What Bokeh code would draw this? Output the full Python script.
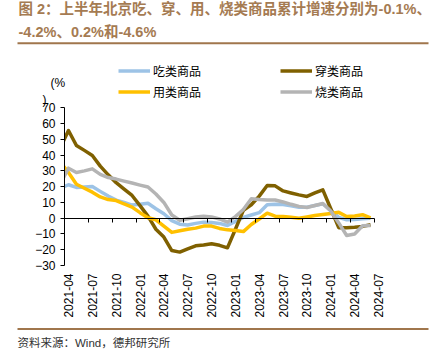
from math import pi
import pandas as pd
from bokeh.plotting import figure
from bokeh.models import (Range1d, Label, Legend, LegendItem, BoxAnnotation, FixedTicker,
                          LinearAxis)
from bokeh.embed import file_html
from bokeh.resources import INLINE

# ---------------- data ----------------
MONTHS = list(pd.period_range("2021-03", "2024-06", freq="M").strftime("%Y-%m"))

FOOD = [19, 21.2, 19.5, 19.8, 20.1, 17, 14, 11.5, 10, 8.3,
        8.8, 9.5, 6, 2.8, -1.5, -3.8, -4.3, -3.3, -2.5, -2.8, -3.3, -4.6,
        -2, 0.5, 2, 3.5, 8.5, 8.8, 8.7, 7.8, 7, 7, 8, 9.1,
        5, 0.5, -1, -0.8, -0.4, -0.1]
CLOTHING = [45, 55.6, 46.1, 43, 39.8, 33, 27.5, 22.5, 18.4, 14.4,
            8, 1.3, -7, -12, -20.5, -21.5, -19.5, -17.5, -17, -16.2, -17.2, -18.8,
            -7, 5, 8.5, 14, 20.7, 20.5, 17.3, 16, 14.8, 13.8, 16, 18,
            6, -6, -6, -5.8, -5.2, -4.2]
HOUSEHOLD = [35.5, 29, 21.5, 19, 16.5, 13.5, 11.8, 11.2, 9, 7,
             3.5, 0.3, -1, -5, -9, -8, -7, -6.3, -5, -5, -6.5, -7.4,
             -7.8, -8.5, -4, -0.5, 3.2, 1.3, 1.1, 0.6, 0, 0.8, 1.7, 2.3,
             3, 3.7, 1.1, 1.4, 2.2, 0.2]
FUEL = [22, 31.7, 29, 30, 31.3, 27.8, 25.8, 24.8, 23.5, 22.3,
        21, 19.8, 15.3, 10, 2, -1.3, -0.3, 0.8, 1.2, 0.8, -0.5, -2.5,
        1, 5.5, 12.3, 11.8, 11.5, 11.5, 10.3, 8.8, 7.5, 6.8, 8, 9.3,
        4.5, -3, -11, -10, -4.8, -4.6]

SERIES_NAMES = ["吃类商品", "穿类商品", "用类商品", "烧类商品"]
SERIES_COLORS = ["#9DC3E6", "#7F6000", "#FFC000", "#B4B4B4"]

TICK_LABELS = ["2021-04", "2021-07", "2021-10", "2022-01", "2022-04", "2022-07",
               "2022-10", "2023-01", "2023-04", "2023-07", "2023-10", "2024-01",
               "2024-04", "2024-07"]
Y_TICKS = [-30, -20, -10, 0, 10, 20, 30, 40, 50, 60, 70]

TITLE_1 = "图 2：上半年北京吃、穿、用、烧类商品累计增速分别为-0.1%、"
TITLE_2 = "-4.2%、0.2%和-4.6%"
SOURCE = "资料来源：Wind，德邦研究所"


def month_pos(s):
    y, m = map(int, s.split("-"))
    return (y - 2021) * 12 + (m - 4)


x_vals = [month_pos(s) + 0.5 for s in MONTHS]      # each month centred in its slot
tick_x = [month_pos(s) for s in TICK_LABELS]        # slot boundaries (tick marks)
label_x = [t + 0.5 for t in tick_x]                 # labels centred on the month slot
X_MIN, X_MAX = tick_x[0], tick_x[-1]
Y_MIN, Y_MAX = Y_TICKS[0], Y_TICKS[-1]

# ---------------- layout (pixels) ----------------
W, H = 442, 360
PLOT_L, PLOT_R, PLOT_T, PLOT_B = 64, 374, 107.3, 265
KX = (PLOT_R - PLOT_L) / (X_MAX - X_MIN)
KY = (PLOT_B - PLOT_T) / (Y_MAX - Y_MIN)


def dx(px):
    return X_MIN + (px - PLOT_L) / KX


def dy(py):
    return Y_MIN + (PLOT_B - py) / KY


p = figure(width=W, height=H, x_range=Range1d(dx(0), dx(W)), y_range=Range1d(dy(H), dy(0)),
           output_backend="svg", toolbar_location=None,
           x_axis_type=None, y_axis_type=None,
           min_border=0, min_border_left=0, min_border_right=0,
           min_border_top=0, min_border_bottom=0)
p.grid.visible = False
p.outline_line_color = None
p.background_fill_color = "white"
p.border_fill_color = "white"

NUM_FONT = "Liberation Sans"
CJK_FONT = "Noto Sans CJK SC"
MIX_FONT = "Liberation Sans, Noto Sans CJK SC"

# series
renderers = []
for vals, col in zip([FOOD, CLOTHING, HOUSEHOLD, FUEL], SERIES_COLORS):
    r = p.line(x_vals, vals, line_color=col, line_width=3.5, line_join="round")
    renderers.append(r)

# mask the part of the lines left of the value axis (plot area clipping)
p.quad(left=[dx(0)], right=[X_MIN], bottom=[Y_MIN], top=[Y_MAX],
       fill_color="white", line_color=None)

# y axis
yax = LinearAxis(fixed_location=X_MIN, bounds=(Y_MIN, Y_MAX), ticker=FixedTicker(ticks=Y_TICKS))
yax.major_tick_out = 4
yax.major_tick_in = 0
yax.minor_tick_out = 0
yax.minor_tick_in = 0
yax.axis_line_color = "black"
yax.major_tick_line_color = "black"
yax.major_label_text_font = NUM_FONT
yax.major_label_text_font_size = "12px"
yax.major_label_text_color = "black"
yax.major_label_standoff = 5
p.add_layout(yax, "left")

# x axis labels at the bottom of the plot area
xlab = LinearAxis(fixed_location=Y_MIN, bounds=(X_MIN, X_MAX + 1), ticker=FixedTicker(ticks=label_x))
xlab.major_label_overrides = {t: lab for t, lab in zip(label_x, TICK_LABELS)}
xlab.major_label_orientation = pi / 2
xlab.axis_line_color = None
xlab.major_tick_line_color = None
xlab.minor_tick_line_color = None
xlab.major_tick_out = 0
xlab.major_tick_in = 0
xlab.major_label_standoff = 8
xlab.major_label_text_font = NUM_FONT
xlab.major_label_text_font_size = "12px"
xlab.major_label_text_color = "black"
p.add_layout(xlab, "below")

# x axis line at zero with tick marks
xzero = LinearAxis(fixed_location=0, bounds=(X_MIN, X_MAX), ticker=FixedTicker(ticks=tick_x))
xzero.major_label_overrides = {t: "" for t in tick_x}
xzero.axis_line_color = "black"
xzero.major_tick_line_color = "black"
xzero.minor_tick_line_color = None
xzero.major_tick_out = 4
xzero.major_tick_in = 0
p.add_layout(xzero, "below")

# legend
order = [0, 2, 1, 3]
legend = Legend(items=[LegendItem(label=SERIES_NAMES[i], renderers=[renderers[i]]) for i in order],
                ncols=2, location=(118, H - 102.2),
                glyph_width=32, glyph_height=21, label_height=21, label_width=127,
                label_standoff=3, spacing=0, padding=0, margin=0,
                label_text_font=CJK_FONT, label_text_font_size="12px",
                label_text_color="black",
                border_line_color=None, background_fill_alpha=0)
p.add_layout(legend)

TITLE_COLOR = "#A57B52"
for txt, py in [(TITLE_1, 8.5), (TITLE_2, 31.7)]:
    p.add_layout(Label(x=dx(18), y=dy(py), text=txt,
                       text_font=MIX_FONT, text_font_size="14.5px", text_font_style="bold",
                       text_color=TITLE_COLOR, text_baseline="middle", text_align="left"))

for yc in [42.7, 328.5]:
    p.add_layout(BoxAnnotation(left=dx(17), right=dx(428), top=dy(yc - 1), bottom=dy(yc + 1),
                               fill_color="#A0764C", fill_alpha=1, line_color=None))

p.add_layout(Label(x=dx(50), y=dy(82), text="(%",
                   text_font=NUM_FONT, text_font_size="12px", text_color="black",
                   text_baseline="middle", text_align="left"))
p.add_layout(Label(x=dx(42), y=dy(99), text=")",
                   text_font=NUM_FONT, text_font_size="12px", text_color="black",
                   text_baseline="middle", text_align="left"))

p.add_layout(Label(x=dx(17), y=dy(342.7), text=SOURCE,
                   text_font=MIX_FONT, text_font_size="11.5px", text_color="#333333",
                   text_baseline="middle", text_align="left"))

open("out.html", "w").write(file_html(p, INLINE))
